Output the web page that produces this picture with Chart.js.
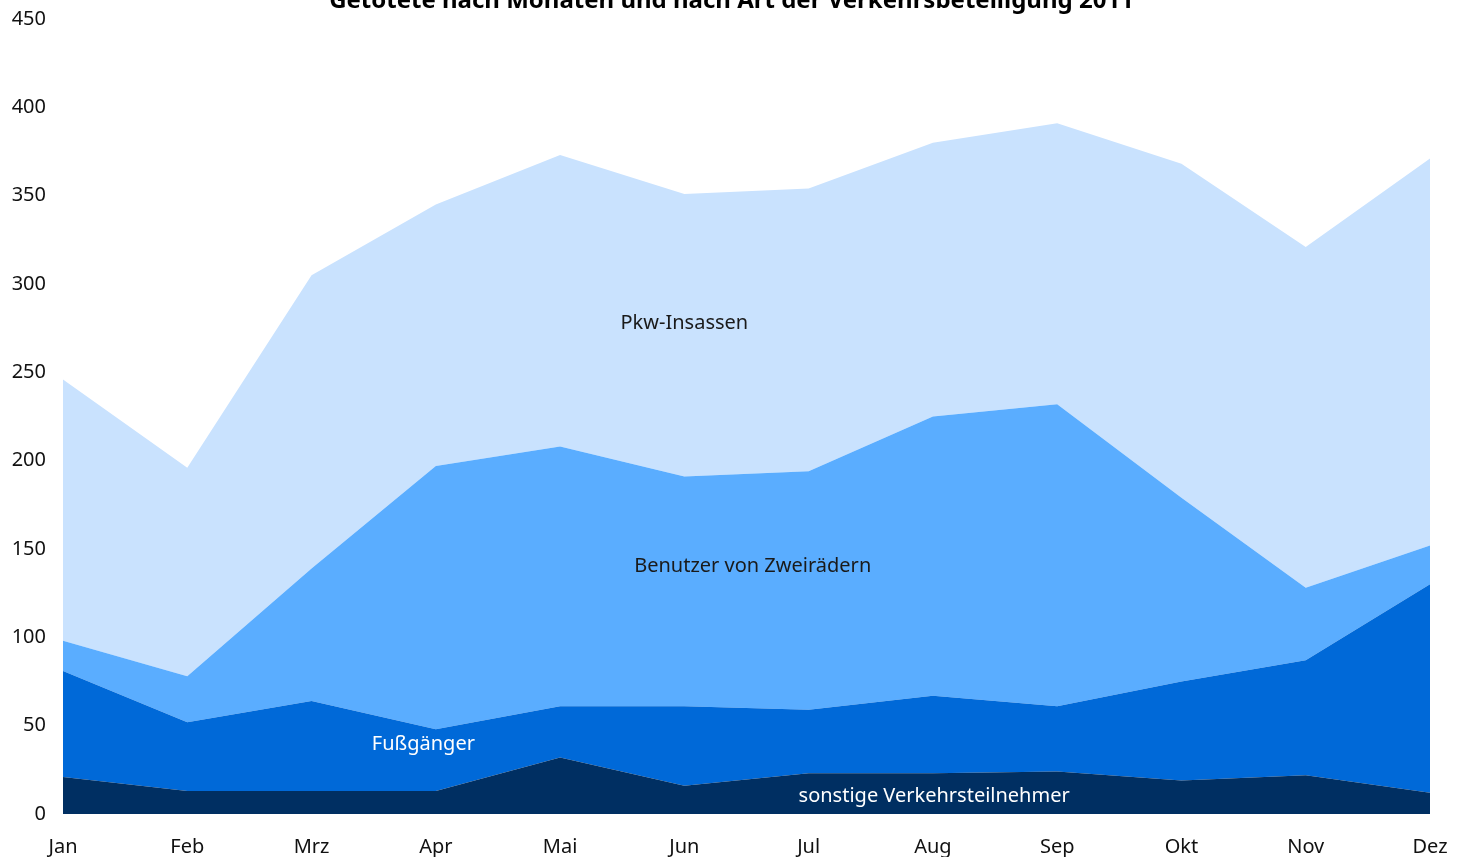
<!DOCTYPE html>
<html>
<head>
<meta charset="utf-8">
<script src="https://cdn.jsdelivr.net/npm/chart.js@4"></script>
<style>
  html, body { margin: 0; padding: 0; background: #fff; }
  #wrap { width: 1463px; height: 857px; }
</style>
</head>
<body>
<div id="wrap"><canvas id="chart" width="1463" height="857"></canvas></div>
<script>
const months = ['Jan', 'Feb', 'Mrz', 'Apr', 'Mai', 'Jun', 'Jul', 'Aug', 'Sep', 'Okt', 'Nov', 'Dez'];

// Getötete je Monat, gestapelt von unten nach oben
const sonstige   = [21, 13, 13, 13, 32, 16, 23, 23, 24, 19, 22, 12];
const fussgaenger = [60, 39, 51, 35, 29, 45, 36, 44, 37, 56, 65, 118];
const zweiraeder = [17, 26, 75, 149, 147, 130, 135, 158, 171, 104, 41, 22];
const pkw        = [148, 118, 166, 148, 165, 160, 160, 155, 159, 189, 193, 219];

const yTicks = [0, 50, 100, 150, 200, 250, 300, 350, 400, 450];

const titleText = 'Getötete nach Monaten und nach Art der Verkehrsbeteiligung 2011';

// Beschriftungen in den Flächen: [text, Monatsindex, Wert, Farbe]
const areaLabels = [
  ['Pkw-Insassen', 5.0, 278, '#1a1a1a'],
  ['Benutzer von Zweirädern', 5.55, 140, '#1a1a1a'],
  ['Fußgänger', 2.9, 39.5, '#ffffff'],
  ['sonstige Verkehrsteilnehmer', 7.01, 10, '#ffffff']
];

const FONT = '"Noto Sans", "Open Sans", sans-serif';

const labelPlugin = {
  id: 'labels',
  afterDraw(chart) {
    const ctx = chart.ctx;
    const x = chart.scales.x, y = chart.scales.y;
    ctx.save();
    ctx.textAlign = 'center';
    ctx.textBaseline = 'middle';
    ctx.font = '20px ' + FONT;
    areaLabels.forEach(([t, i, v, c]) => {
      ctx.fillStyle = c;
      ctx.fillText(t, x.getPixelForValue(i), y.getPixelForValue(v));
    });
    // Titel, oben angeschnitten wie im Original
    ctx.font = 'bold 24px ' + FONT;
    ctx.fillStyle = '#000';
    ctx.textBaseline = 'alphabetic';
    ctx.fillText(titleText, chart.width / 2, 8);
    ctx.restore();
  }
};

const series = [
  ['sonstige Verkehrsteilnehmer', sonstige, '#002f62', 'origin'],
  ['Fußgänger', fussgaenger, '#0069d8', '-1'],
  ['Benutzer von Zweirädern', zweiraeder, '#5aadff', '-1'],
  ['Pkw-Insassen', pkw, '#c9e2fe', '-1']
];

new Chart(document.getElementById('chart'), {
  type: 'line',
  data: {
    labels: months,
    datasets: series.map(([label, data, color, fill]) => ({
      label: label,
      data: data,
      backgroundColor: color,
      borderColor: color,
      borderWidth: 0,
      pointRadius: 0,
      tension: 0,
      fill: fill
    }))
  },
  options: {
    responsive: false,
    animation: false,
    layout: { padding: { top: 19, right: 33, bottom: 0, left: 0 } },
    plugins: {
      legend: { display: false },
      tooltip: { enabled: false },
      title: { display: false }
    },
    scales: {
      x: {
        offset: false,
        afterFit: s => { s.height = 43; s.paddingLeft = 0; s.paddingRight = 0; },
        grid: { display: false, drawTicks: false },
        border: { display: false },
        ticks: { color: '#111', font: { family: FONT, size: 20 }, padding: 21, maxRotation: 0 }
      },
      y: {
        stacked: true,
        min: 0,
        max: 450,
        afterBuildTicks: s => { s.ticks = yTicks.map(v => ({ value: v })); },
        afterFit: s => { s.width = 63; s.paddingTop = 0; s.paddingBottom = 0; },
        grid: { display: false, drawTicks: false },
        border: { display: false },
        ticks: { color: '#111', font: { family: FONT, size: 20 }, padding: 17 }
      }
    }
  },
  plugins: [labelPlugin]
});
</script>
</body>
</html>
